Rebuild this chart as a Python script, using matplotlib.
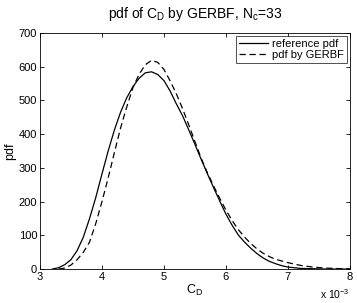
import matplotlib
matplotlib.use("Agg")
import matplotlib.pyplot as plt

plt.rcParams['font.family'] = ['Liberation Sans', 'DejaVu Sans']
plt.rcParams['mathtext.fontset'] = 'custom'
plt.rcParams['mathtext.rm'] = 'Liberation Sans'
plt.rcParams['mathtext.it'] = 'Liberation Sans'

# C_D values in units of 1e-3
x_ref = [3.2, 3.3, 3.4, 3.5, 3.6, 3.7, 3.8, 3.9, 4.0, 4.1, 4.2, 4.3, 4.4, 4.5, 4.6, 4.7,
         4.8, 4.9, 5.0, 5.1, 5.2, 5.3, 5.4, 5.5, 5.6, 5.7, 5.8, 5.9, 6.0, 6.1, 6.2, 6.3,
         6.4, 6.5, 6.6, 6.7, 6.8, 6.9, 7.0, 7.1, 7.2, 7.4, 7.6, 8.0]
pdf_ref = [0, 4, 13, 28, 55, 95, 150, 212, 282, 350, 412, 465, 508, 541, 566, 582,
           585, 577, 559, 528, 490, 455, 413, 370, 326, 283, 242, 202, 163, 130, 101, 80,
           62, 46, 33, 23, 16, 10, 6, 4, 2, 1, 0, 0]

x_gerbf = [3.3, 3.4, 3.5, 3.6, 3.7, 3.8, 3.9, 4.0, 4.1, 4.2, 4.3, 4.4, 4.5, 4.6, 4.7,
           4.8, 4.9, 5.0, 5.1, 5.2, 5.3, 5.4, 5.5, 5.6, 5.7, 5.8, 5.9, 6.0, 6.1, 6.2,
           6.3, 6.4, 6.5, 6.6, 6.7, 6.8, 6.9, 7.0, 7.2, 7.4, 7.6, 7.8, 8.0]
pdf_gerbf = [0, 3, 12, 28, 50, 80, 135, 200, 270, 345, 418, 481, 538, 578, 606,
             619, 613, 592, 558, 520, 476, 428, 378, 329, 286, 247, 210, 175, 144, 117,
             95, 76, 60, 47, 37, 29, 24, 19, 11, 6, 3, 1.5, 0.5]

xticks = [3, 4, 5, 6, 7, 8]
yticks = [0, 100, 200, 300, 400, 500, 600, 700]

fig = plt.figure(figsize=(3.57, 3.03), dpi=100)
ax = fig.add_axes([0.112, 0.112, 0.868, 0.779])

ax.plot(x_ref, pdf_ref, 'k-', lw=0.9, label='reference pdf')
ax.plot(x_gerbf, pdf_gerbf, 'k--', lw=0.9, dashes=(5, 3), label='pdf by GERBF')

ax.set_xlim(3, 8)
ax.set_ylim(0, 700)
ax.set_xticks(xticks)
ax.set_yticks(yticks)
ax.tick_params(direction='in', length=3, width=0.6, labelsize=8, top=True, right=True, pad=2)
for s in ax.spines.values():
    s.set_linewidth(0.6)

ax.set_xlabel('C$_\\mathregular{D}$', fontsize=9, labelpad=1)
ax.set_ylabel('pdf', fontsize=9, labelpad=2)
ax.set_title('pdf of C$_\\mathregular{D}$ by GERBF, N$_\\mathregular{c}$=33', fontsize=10, pad=11)
ax.text(1.0, -0.075, 'x 10$^{-3}$', transform=ax.transAxes, ha='right', va='top', fontsize=7.5)

leg = ax.legend(loc='upper right', fontsize=8, frameon=True, fancybox=False,
                borderaxespad=0.25, handlelength=2.6, handletextpad=0.4,
                borderpad=0.25, labelspacing=0.15)
leg.get_frame().set_edgecolor('black')
leg.get_frame().set_linewidth(0.6)

fig.savefig('out.png', dpi=100)
